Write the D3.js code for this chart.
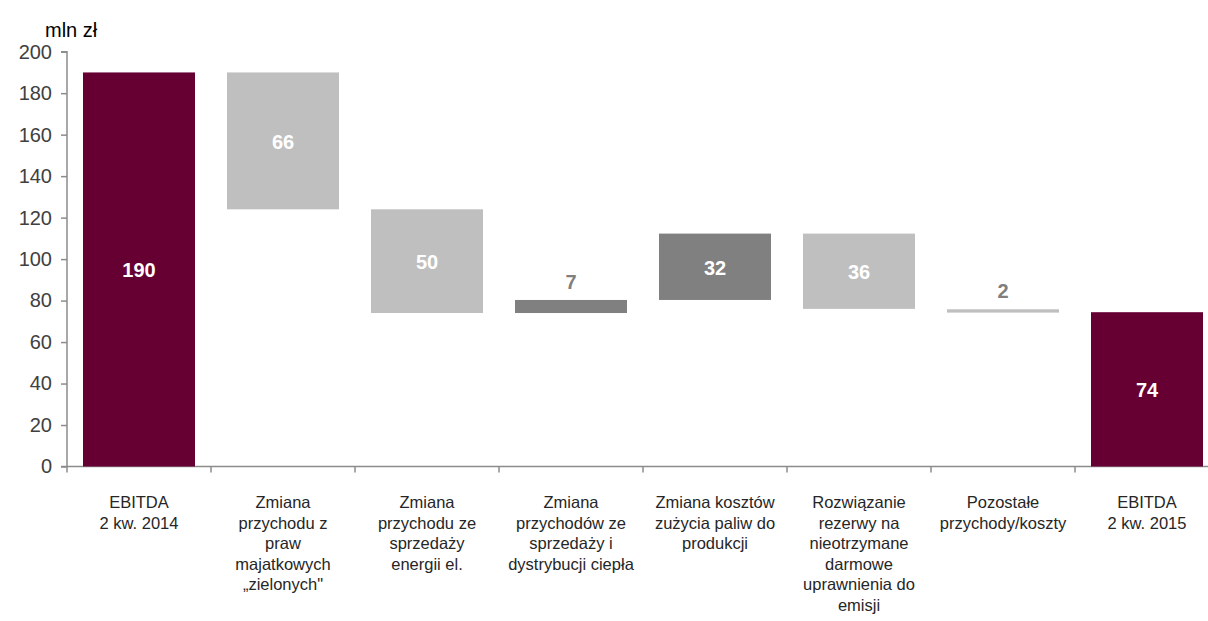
<!DOCTYPE html>
<html>
<head>
  <meta charset="utf-8">
  <style>
    body { margin: 0; background: #fff; }
    svg { font-family: "Liberation Sans", Arial, sans-serif; }
    .axis path, .axis line { stroke: #8c8c8c; stroke-width: 1.5px; }
    .axis--y text { fill: #404040; font-size: 20px; }
    .cat { fill: #262626; font-size: 16.5px; }
    .val { font-size: 20px; font-weight: bold; }
  </style>
</head>
<body>
  <svg width="1208" height="621"></svg>
  <script src="https://cdn.jsdelivr.net/npm/d3@7"></script>
  <script>
    var categories = [
      ["EBITDA", "2 kw. 2014"],
      ["Zmiana", "przychodu z", "praw", "majatkowych", "\u201Ezielonych\""],
      ["Zmiana", "przychodu ze", "sprzedaży", "energii el."],
      ["Zmiana", "przychodów ze", "sprzedaży i", "dystrybucji ciepła"],
      ["Zmiana kosztów", "zużycia paliw do", "produkcji"],
      ["Rozwiązanie", "rezerwy na", "nieotrzymane", "darmowe", "uprawnienia do", "emisji"],
      ["Pozostałe", "przychody/koszty"],
      ["EBITDA", "2 kw. 2015"]
    ];
    // bar bottom / top
    var barLow  = [0, 124, 74, 74, 80.3, 76, 74.2, 0];
    var barHigh = [190, 190, 124, 80.3, 112.3, 112.3, 75.8, 74.4];
    var valueLabels = ["190", "66", "50", "7", "32", "36", "2", "74"];
    var barKind = ["total", "down", "down", "up", "up", "down", "down", "total"];
    var yTicks = [0, 20, 40, 60, 80, 100, 120, 140, 160, 180, 200];

    var colors = { total: "#660033", down: "#bfbfbf", up: "#808080" };

    var svg = d3.select("svg"),
        left = 67, step = 144,
        y0 = 466.5, yTop = 51.7;

    var x = d3.scaleBand()
        .domain(d3.range(categories.length))
        .range([left, left + step * categories.length])
        .paddingInner(32 / 144)
        .paddingOuter(16 / 144);

    var y = d3.scaleLinear().domain([0, 200]).range([y0, yTop]);

    svg.append("text")
        .attr("x", 45).attr("y", 37)
        .attr("fill", "#000")
        .style("font-size", "20px")
        .text("mln zł");

    var yAxis = d3.axisLeft(y).tickValues(yTicks).tickSize(6).tickPadding(9);
    svg.append("g")
        .attr("class", "axis axis--y")
        .attr("transform", "translate(" + left + ",0)")
        .call(yAxis)
        .call(function(g) { g.select(".domain").attr("d", "M-6," + yTop + "H0V" + y0); });

    // x axis line with ticks at category boundaries
    var xg = svg.append("g").attr("class", "axis axis--x");
    xg.append("line")
        .attr("x1", left - 6).attr("x2", left + step * categories.length)
        .attr("y1", y0).attr("y2", y0);
    xg.selectAll(".tick")
      .data(d3.range(categories.length + 1))
      .enter().append("line")
        .attr("x1", function(i) { return left + i * step; })
        .attr("x2", function(i) { return left + i * step; })
        .attr("y1", y0).attr("y2", y0 + 6);

    var bars = svg.append("g");
    bars.selectAll("rect")
      .data(d3.range(categories.length))
      .enter().append("rect")
        .attr("x", function(i) { return x(i); })
        .attr("width", x.bandwidth())
        .attr("y", function(i) { return y(barHigh[i]); })
        .attr("height", function(i) { return y(barLow[i]) - y(barHigh[i]); })
        .attr("fill", function(i) { return colors[barKind[i]]; });

    svg.append("g").selectAll("text")
      .data(d3.range(categories.length))
      .enter().append("text")
        .attr("class", "val")
        .attr("text-anchor", "middle")
        .attr("x", function(i) { return x(i) + x.bandwidth() / 2; })
        .attr("y", function(i) {
          var h = y(barLow[i]) - y(barHigh[i]);
          if (h < 25) return y(barHigh[i]) - 11;
          return (y(barLow[i]) + y(barHigh[i])) / 2 + 8;
        })
        .attr("fill", function(i) {
          var h = y(barLow[i]) - y(barHigh[i]);
          return h < 25 ? "#7f7f7f" : "#fff";
        })
        .text(function(i) { return valueLabels[i]; });

    var cats = svg.append("g").selectAll("text")
      .data(categories)
      .enter().append("text")
        .attr("class", "cat")
        .attr("text-anchor", "middle")
        .attr("x", function(d, i) { return x(i) + x.bandwidth() / 2; })
        .attr("y", 508);
    cats.selectAll("tspan")
      .data(function(d) { return d; })
      .enter().append("tspan")
        .attr("x", function() { return d3.select(this.parentNode).attr("x"); })
        .attr("dy", function(d, j) { return j === 0 ? 0 : 20.5; })
        .text(function(d) { return d; });
  </script>
</body>
</html>
